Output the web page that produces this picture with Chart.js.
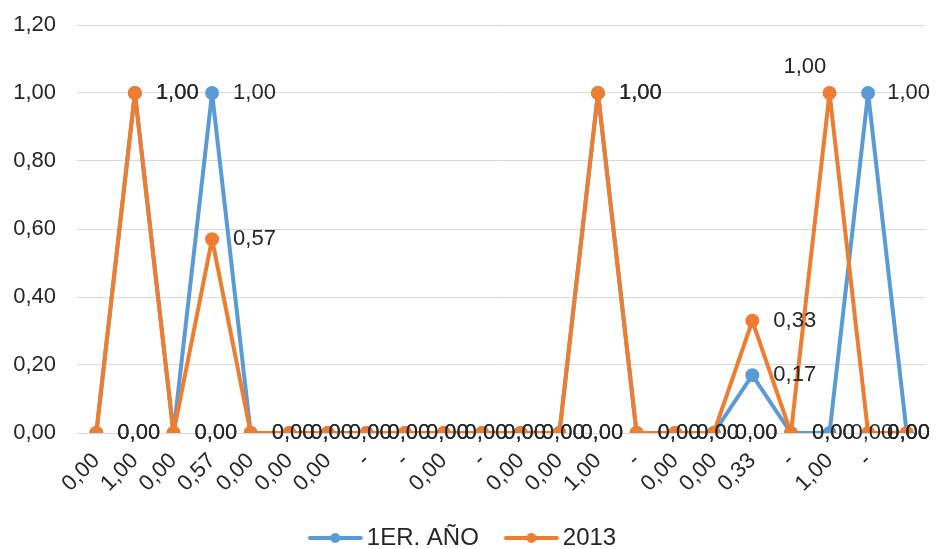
<!DOCTYPE html>
<html>
<head>
<meta charset="utf-8">
<script src="https://cdn.jsdelivr.net/npm/chart.js@4"></script>
<style>
html,body{margin:0;padding:0;background:#fff;overflow:hidden;}
#wrap{width:936px;height:549px;position:relative;}
</style>
</head>
<body>
<div id="wrap"><canvas id="c" width="936" height="549"></canvas></div>
<script>
const categories = ['0,00','1,00','0,00','0,57','0,00','0,00','0,00','-','-','0,00','-','0,00','0,00','1,00','-','0,00','0,00','0,33','-','1,00','-',''];
const series1Name = '1ER. AÑO';
const series1 = [0,1,0,1,0,0,0,0,0,0,0,0,0,1,0,0,0,0.17,0,0,1,0];
const series2Name = '2013';
const series2 = [0,1,0,0.57,0,0,0,0,0,0,0,0,0,1,0,0,0,0.33,0,1,0,0];
const yTicks = [0,0.2,0.4,0.6,0.8,1.0,1.2];
// label placement overrides (series 2 indices drawn above the point)
const labelAbove2 = [19];

const BLUE = '#5B9BD5', ORANGE = '#ED7D31';
const FONT = '"Liberation Sans", Arial, sans-serif';
const TEXT = '#262626';
const fmt = v => v.toFixed(2).replace('.', ',');

function legendIcon(color){
  const c = document.createElement('canvas');
  c.width = 80; c.height = 12;
  const x = c.getContext('2d');
  x.strokeStyle = color; x.lineWidth = 4; x.lineCap = 'round';
  x.beginPath(); x.moveTo(26,6); x.lineTo(77,6); x.stroke();
  x.fillStyle = color; x.beginPath(); x.arc(51.5,6,5,0,Math.PI*2); x.fill();
  return c;
}

const labelPlugin = {
  id: 'valueLabels',
  afterDatasetsDraw(chart){
    const ctx = chart.ctx;
    ctx.save();
    ctx.font = '22px ' + FONT;
    ctx.fillStyle = TEXT;
    ctx.textBaseline = 'middle';
    ctx.textAlign = 'left';
    chart.data.datasets.forEach((ds, di) => {
      const meta = chart.getDatasetMeta(di);
      meta.data.forEach((pt, i) => {
        const txt = fmt(ds.data[i]);
        const w = ctx.measureText(txt).width;
        let x = pt.x + 21, y = pt.y;
        if (di === 1 && labelAbove2.includes(i)) { x = pt.x - 46; y = pt.y - 26; }
        x = Math.min(x, chart.width - w - 6);
        ctx.fillText(txt, x, y);
      });
    });
    ctx.restore();
  }
};

new Chart(document.getElementById('c'), {
  type: 'line',
  data: {
    labels: categories,
    datasets: [
      { label: series1Name, data: series1, borderColor: BLUE, backgroundColor: BLUE,
        borderWidth: 4, borderJoinStyle: 'round', borderCapStyle: 'round',
        pointRadius: 5, pointHoverRadius: 5, pointStyle: 'circle',
        order: 1, legendIcon: legendIcon(BLUE) },
      { label: series2Name, data: series2, borderColor: ORANGE, backgroundColor: ORANGE,
        borderWidth: 4, borderJoinStyle: 'round', borderCapStyle: 'round',
        pointRadius: 5, pointHoverRadius: 5, pointStyle: 'circle',
        order: 0, legendIcon: legendIcon(ORANGE) }
    ]
  },
  options: {
    responsive: false,
    animation: false,
    layout: { padding: { left: -17, right: 10, top: 0, bottom: -11 } },
    scales: {
      x: {
        offset: true,
        grid: { display: false },
        border: { display: false },
        afterFit: s => { s.height = 83; },
        ticks: { autoSkip: false, minRotation: 45, maxRotation: 45, padding: 7,
                 color: TEXT, font: { size: 22, family: FONT } }
      },
      y: {
        min: 0, max: 1.2,
        afterBuildTicks: s => { s.ticks = yTicks.map(v => ({ value: v })); },
        afterFit: s => { s.width = 94; s.paddingTop = 25; s.paddingBottom = 13; },
        grid: { color: '#d9d9d9', lineWidth: 1, drawTicks: false },
        border: { display: false },
        ticks: { padding: 21, color: TEXT, font: { size: 22, family: FONT },
                 callback: v => fmt(v) }
      }
    },
    plugins: {
      tooltip: { enabled: false },
      legend: {
        position: 'bottom',
        labels: {
          usePointStyle: true,
          pointStyleWidth: 62,
          padding: 10,
          color: TEXT,
          font: { size: 24, family: FONT },
          generateLabels: chart => chart.data.datasets.map((ds, i) => ({
            text: ds.label, datasetIndex: i, pointStyle: ds.legendIcon,
            fillStyle: ds.borderColor, strokeStyle: ds.borderColor, lineWidth: 0,
            fontColor: TEXT, hidden: false
          }))
        }
      }
    }
  },
  plugins: [labelPlugin]
});
</script>
</body>
</html>
